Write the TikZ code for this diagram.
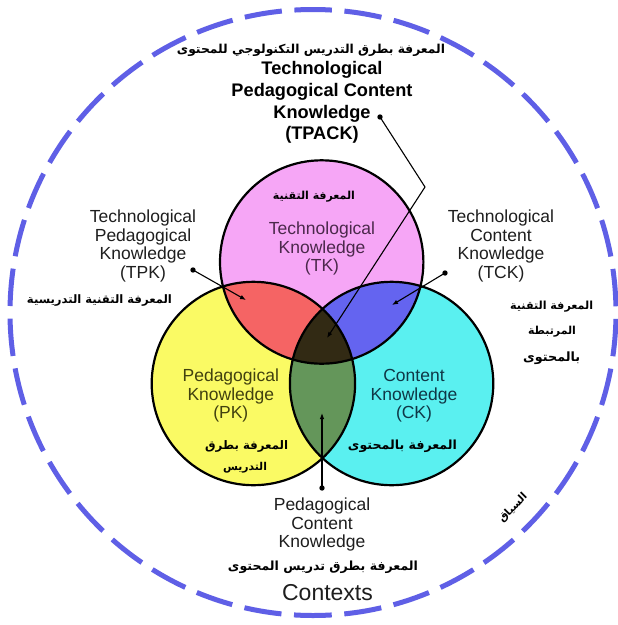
\documentclass[tikz,border=0pt]{standalone}
\usepackage{fontspec}
\usepackage{graphicx}
\setmainfont{Liberation Sans}
\newfontfamily\arabicfont[Script=Arabic]{DejaVu Sans}
\TeXXeTstate=1
\usetikzlibrary{arrows.meta}
\definecolor{ringblue}{RGB}{95,95,230}
\definecolor{tkpink}{RGB}{246,166,246}
\definecolor{pkyellow}{RGB}{250,250,100}
\definecolor{ckcyan}{RGB}{90,240,240}
\definecolor{tpkred}{RGB}{245,100,100}
\definecolor{tckblue}{RGB}{100,100,240}
\definecolor{pckgreen}{RGB}{100,150,90}
\definecolor{tpackdark}{RGB}{50,42,20}
\definecolor{lblgray}{RGB}{30,30,30}
\definecolor{tktext}{RGB}{75,40,75}
\definecolor{pktext}{RGB}{65,65,15}
\definecolor{cktext}{RGB}{15,55,70}
\newcommand{\artxt}[2]{\resizebox{#1pt}{!}{\arabicfont\bfseries #2}}
\tikzset{
  lbl/.style={font=\fontsize{17.5}{18.5}\selectfont, align=center, inner sep=0pt, text=lblgray},
  boldlbl/.style={font=\bfseries\fontsize{18.2}{21.8}\selectfont, align=center, inner sep=0pt, text=black},
  arlbl/.style={inner sep=0pt, text=black},
  venn/.style={draw=black, line width=2.2pt},
  conn/.style={draw=black, line width=1.1pt, -{Latex[length=6pt,width=4.6pt]}},
  ring/.style={draw=ringblue, line width=5pt, dash pattern=on 37.5pt off 12.6pt, dash phase=18.75pt}
}
\begin{document}
\begin{tikzpicture}[x=1pt,y=-1pt]
\useasboundingbox (0,0) rectangle (618,625);
\fill[white] (0,0) rectangle (618,625);
% outer context ring
\coordinate (ringbottom) at (313,615.5);
\draw[ring] (ringbottom) arc[start angle=-90, delta angle=360, radius=303pt];
% circle centres
\coordinate (TK) at (321.7,262);
\coordinate (PK) at (253.4,383.5);
\coordinate (CK) at (391.6,383.5);
\def\R{101.7pt}
\fill[pkyellow] (PK) circle[radius=\R];
\fill[ckcyan] (CK) circle[radius=\R];
\fill[tkpink] (TK) circle[radius=\R];
\begin{scope}\clip (TK) circle[radius=\R]; \fill[tpkred] (PK) circle[radius=\R];\end{scope}
\begin{scope}\clip (TK) circle[radius=\R]; \fill[tckblue] (CK) circle[radius=\R];\end{scope}
\begin{scope}\clip (PK) circle[radius=\R]; \fill[pckgreen] (CK) circle[radius=\R];\end{scope}
\begin{scope}\clip (PK) circle[radius=\R]; \clip (CK) circle[radius=\R]; \fill[tpackdark] (TK) circle[radius=\R];\end{scope}
\draw[venn] (PK) circle[radius=\R];
\draw[venn] (CK) circle[radius=\R];
\draw[venn] (TK) circle[radius=\R];
% labels
\node[arlbl] (arTop) at (311,50) {\artxt{268}{\beginR المعرفة بطرق التدريس التكنولوجي للمحتوى\endR}};
\node[boldlbl] (tpack) at (322,102.5) {Technological\\Pedagogical Content\\Knowledge\\(TPACK)};
\node[arlbl] (arTK) at (314,196.7) {\artxt{82}{\beginR المعرفة التقنية\endR}};
\node[lbl, text=tktext] (tk) at (322,248.5) {Technological\\Knowledge\\(TK)};
\node[lbl] (tpk) at (143,246) {Technological\\Pedagogical\\Knowledge\\(TPK)};
\node[arlbl] (arTPK) at (99.5,301) {\artxt{145}{\beginR المعرفة التقنية التدريسية\endR}};
\node[lbl] (tck) at (501,246) {Technological\\Content\\Knowledge\\(TCK)};
\node[arlbl] (arTCKa) at (551.7,306.7) {\artxt{83}{\beginR المعرفة التقنية\endR}};
\node[arlbl] (arTCKb) at (552,331.7) {\artxt{48}{\beginR المرتبطة\endR}};
\node[arlbl] (arTCKc) at (551.7,358) {\artxt{57}{\beginR بالمحتوى\endR}};
\node[lbl, text=pktext] (pk) at (230.8,395.8) {Pedagogical\\Knowledge\\(PK)};
\node[arlbl] (arPKa) at (246.7,446) {\artxt{83}{\beginR المعرفة بطرق\endR}};
\node[arlbl] (arPKb) at (245,468) {\artxt{44}{\beginR التدريس\endR}};
\node[lbl, text=cktext] (ck) at (414,395.8) {Content\\Knowledge\\(CK)};
\node[arlbl] (arCK) at (402.5,446) {\artxt{109}{\beginR المعرفة بالمحتوى\endR}};
\node[lbl] (pck) at (322,524.5) {Pedagogical\\Content\\Knowledge};
\node[arlbl] (arPCK) at (323,567) {\artxt{190}{\beginR المعرفة بطرق تدريس المحتوى\endR}};
\node[lbl, font=\fontsize{23}{26}\selectfont] (ctx) at (327.5,593) {Contexts};
\node[arlbl, rotate=45] (arCtx) at (513,508) {\artxt{36}{\beginR السياق\endR}};
% connectors
\coordinate (dTPACK) at (380,117);
\coordinate (kTPACK) at (425,187);
\coordinate (tTPACK) at (327,338);
\coordinate (dTPK) at (193,270);
\coordinate (tTPK) at (246,300);
\coordinate (dTCK) at (445,273);
\coordinate (tTCK) at (392,305);
\coordinate (dPCK) at (322,488);
\coordinate (tPCK) at (322,413);
\draw[conn] (dTPACK) -- (kTPACK) -- (tTPACK);
\draw[conn] (dTPK) -- (tTPK);
\draw[conn] (dTCK) -- (tTCK);
\draw[conn] (dPCK) -- (tPCK);
\foreach \d in {dTPACK,dTPK,dTCK,dPCK} \fill[black] (\d) circle[radius=2.7pt];
\end{tikzpicture}
\end{document}
